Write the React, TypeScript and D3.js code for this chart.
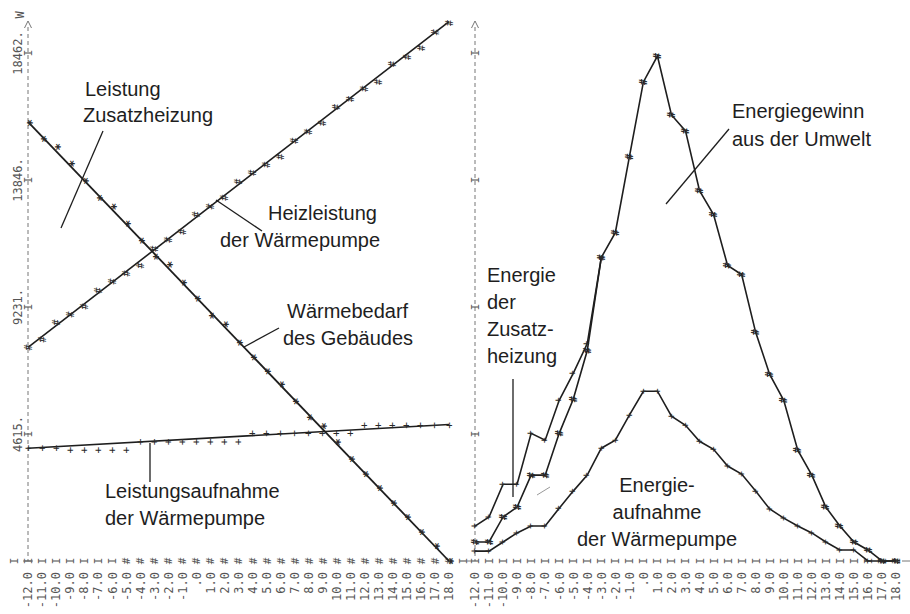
import * as d3 from 'd3';

const W = 910;
const H = 614;

// Außentemperatur (°C)
const temps = [-12, -11, -10, -9, -8, -7, -6, -5, -4, -3, -2, -1, 0, 1, 2, 3, 4, 5, 6, 7, 8, 9, 10, 11, 12, 13, 14, 15, 16, 17, 18];
const xLabels = ['-12.0', '-11.0', '-10.0', '-9.0', '-8.0', '-7.0', '-6.0', '-5.0', '-4.0', '-3.0', '-2.0', '-1.0', '.0', '1.0', '2.0', '3.0', '4.0', '5.0', '6.0', '7.0', '8.0', '9.0', '10.0', '11.0', '12.0', '13.0', '14.0', '15.0', '16.0', '17.0', '18.0'];

const yTicks = [4615, 9231, 13846, 18462];
const yTickLabels = ['4615.', '9231.', '13846.', '18462.'];

// linkes Diagramm: Leistung (W)
const heizleistung = [7760, 8050, 8670, 8960, 9250, 9830, 10160, 10450, 10740, 11350, 11680, 11970, 12590, 12880, 13200, 13780, 14110, 14400, 14690, 15270, 15600, 15920, 16500, 16790, 17160, 17410, 18060, 18320, 18640, 19220, 19550];
const waermebedarf = [15920, 15340, 15050, 14440, 13820, 13200, 12880, 12260, 11640, 11060, 10770, 10120, 9540, 8920, 8600, 7940, 7400, 6890, 6420, 5800, 5220, 4900, 4320, 3700, 3160, 2650, 2100, 1600, 1050, 540, 0];
const leistungsaufnahme = [4100, 4100, 4100, 4030, 4030, 4030, 4030, 4030, 4330, 4330, 4330, 4330, 4330, 4330, 4330, 4330, 4640, 4640, 4640, 4640, 4640, 4640, 4640, 4640, 4930, 4930, 4930, 4930, 4930, 4930, 4930];

// Ausgleichsgeraden (Werte bei -12 und 18)
const trendEnds = [-12, 18];
const trendHeiz = [7760, 19600];
const trendBedarf = [15960, 0];
const trendAufnahme = [4100, 4960];

// Nullzeile links
const bottomLeftMarks = ['I', 'I', 'I', 'I', 'I', 'I', 'I', '#', '#', '#', '#', '#', '#', '#', '#', '#', '#', '#', '#', '#', '#', '#', '#', '#', '#', '#', '#', '#', '#', '#', '#'];

// rechtes Diagramm: Energie
const umweltEnergie = [690, 690, 1600, 1960, 3120, 3120, 4640, 5880, 7650, 11030, 11930, 14690, 17410, 18350, 16210, 15630, 13460, 12590, 10740, 10410, 8310, 6780, 5840, 4030, 3120, 1960, 1270, 690, 400, 0, 0];
const zusatzTemps = [-12, -11, -10, -9, -8, -7, -6, -5, -4, -3];
const zusatzEnergie = [1270, 1600, 2790, 2790, 4640, 4390, 5840, 6820, 7900, 11030];
const aufnahmeEnergie = [360, 360, 690, 1020, 1270, 1270, 1920, 2540, 3120, 4100, 4390, 5300, 6170, 6170, 5260, 4930, 4350, 4060, 3450, 3160, 2540, 1890, 1560, 1270, 1020, 690, 400, 400, 0, 0, 0];

const MONO = 'DejaVu Sans Mono, monospace';
const SANS = 'Liberation Sans, Arial, Helvetica, sans-serif';

const Glyph = ({ x, y, ch, size = 11, dy = '0.36em', fill = '#333', bold = false }: any) => (
  <text transform={`translate(${x},${y}) rotate(-90)`} textAnchor="middle" dy={dy}
    fontFamily={MONO} fontSize={size} fill={fill} fontWeight={bold ? 'bold' : 'normal'}>{ch}</text>
);

export default function App() {
  const xL = d3.scaleLinear().domain([-12, 18]).range([28, 449]);
  const xR = d3.scaleLinear().domain([-12, 18]).range([475, 896]);
  const y = d3.scaleLinear().domain([0, 18462]).range([561, 53]);
  const y0 = y(0);

  const lineL = d3.line<number>().x((_, i) => xL(trendEnds[i])).y(d => y(d));
  const poly = (xs: number[], vs: number[]) =>
    d3.line<number>().x((_, i) => xR(xs[i])).y(d => y(d))(vs) || '';

  const lbl = (x: number, yy: number, s: string, anchor = 'start') => (
    <text x={x} y={yy} fontFamily={SANS} fontSize={20} fill="#1e1e1e" textAnchor={anchor}>{s}</text>
  );

  const axis = (x0: number, labels: boolean) => (
    <g>
      <line x1={x0} x2={x0} y1={27} y2={y0} stroke="#666" strokeWidth={0.9} strokeDasharray="4 3" />
      <path d={`M${x0 - 3.5},28 L${x0},21 L${x0 + 3.5},28`} fill="none" stroke="#666" strokeWidth={0.9} />
      {yTicks.map((t, i) => (
        <g key={t}>
          <Glyph x={x0} y={y(t)} ch="I" size={11} fill="#555" />
          {labels && (
            <text transform={`translate(18,${y(t)}) rotate(-90)`} textAnchor="middle" dy="0.36em"
              fontFamily={MONO} fontSize={12} fill="#555">{yTickLabels[i]}</text>
          )}
        </g>
      ))}
    </g>
  );

  const xAxisLabels = (sx: d3.ScaleLinear<number, number>) =>
    temps.map((t, i) => (
      <text key={t} transform={`translate(${sx(t)},572) rotate(-90)`} textAnchor="end" dy="0.36em"
        fontFamily={MONO} fontSize={12} fill="#555">{xLabels[i]}</text>
    ));

  return (
    <svg width={W} height={H} style={{ position: 'absolute', left: 0, top: 0, background: '#fff' }}>
      <rect width={W} height={H} fill="#fff" />

      {/* linkes Diagramm */}
      {axis(xL(-12), true)}
      <text transform={`translate(20,15) rotate(-90)`} textAnchor="middle" dy="0.36em"
        fontFamily={MONO} fontSize={12} fill="#555">W</text>
      {bottomLeftMarks.map((m, i) => (
        <Glyph key={i} x={xL(temps[i])} y={y0} ch={m} size={11} fill="#555" />
      ))}
      <Glyph x={xL(-13)} y={y0} ch="I" fill="#555" />
      <Glyph x={xL(19)} y={y0} ch="I" fill="#555" />
      <line x1={xL(-12) - 5} x2={xL(-12) + 5} y1={y0} y2={y0} stroke="#666" strokeWidth={0.9} />
      {xAxisLabels(xL)}

      <path d={lineL(trendHeiz) || ''} fill="none" stroke="#1e1e1e" strokeWidth={1.6} />
      <path d={lineL(trendBedarf) || ''} fill="none" stroke="#1e1e1e" strokeWidth={1.8} />
      <path d={lineL(trendAufnahme) || ''} fill="none" stroke="#1e1e1e" strokeWidth={1.6} />

      {heizleistung.map((v, i) => <Glyph key={'h' + i} x={xL(temps[i])} y={y(v)} ch="#" size={10} fill="#2a2a2a" />)}
      {waermebedarf.map((v, i) => <Glyph key={'w' + i} x={xL(temps[i])} y={y(v)} ch="*" size={13} dy="0.58em" fill="#2a2a2a" bold />)}
      {leistungsaufnahme.map((v, i) => <Glyph key={'l' + i} x={xL(temps[i])} y={y(v)} ch="+" size={11} dy="0.32em" fill="#2a2a2a" />)}

      {lbl(85, 96, 'Leistung')}
      {lbl(83, 122, 'Zusatzheizung')}
      <line x1={103} y1={131} x2={61} y2={228} stroke="#1e1e1e" strokeWidth={1.3} />

      {lbl(268, 220, 'Heizleistung')}
      {lbl(220, 247, 'der Wärmepumpe')}
      <line x1={216} y1={200} x2={262} y2={231} stroke="#1e1e1e" strokeWidth={1.3} />

      {lbl(287, 318, 'Wärmebedarf')}
      {lbl(283, 345, 'des Gebäudes')}
      <line x1={244} y1={347} x2={279} y2={328} stroke="#1e1e1e" strokeWidth={1.3} />

      {lbl(105, 498, 'Leistungsaufnahme')}
      {lbl(105, 525, 'der Wärmepumpe')}
      <line x1={150} y1={443} x2={150} y2={482} stroke="#1e1e1e" strokeWidth={1.3} />

      {/* rechtes Diagramm */}
      {axis(xR(-12), false)}
      {temps.map(t => <Glyph key={'r' + t} x={xR(t)} y={y0} ch="I" fill="#555" />)}
      <line x1={xL(19) + 4} x2={xR(-12) - 3} y1={y0} y2={y0} stroke="#666" strokeWidth={0.9} />
      <line x1={xR(18) + 6} x2={xR(18) + 14} y1={y0} y2={y0} stroke="#666" strokeWidth={0.9} />
      {xAxisLabels(xR)}

      <path d={poly(temps, umweltEnergie)} fill="none" stroke="#1e1e1e" strokeWidth={1.6} />
      <path d={poly(zusatzTemps, zusatzEnergie)} fill="none" stroke="#1e1e1e" strokeWidth={1.6} />
      <path d={poly(temps, aufnahmeEnergie)} fill="none" stroke="#1e1e1e" strokeWidth={1.6} />
      {umweltEnergie.map((v, i) => <Glyph key={'u' + i} x={xR(temps[i])} y={y(v)} ch="#" size={10} fill="#2a2a2a" bold />)}
      {zusatzEnergie.map((v, i) => <Glyph key={'z' + i} x={xR(zusatzTemps[i])} y={y(v)} ch="+" size={10} dy="0.32em" fill="#2a2a2a" />)}
      {aufnahmeEnergie.map((v, i) => <Glyph key={'a' + i} x={xR(temps[i])} y={y(v)} ch="+" size={10} dy="0.32em" fill="#2a2a2a" />)}

      {lbl(732, 118, 'Energiegewinn')}
      {lbl(732, 146, 'aus der Umwelt')}
      <line x1={729} y1={129} x2={666} y2={204} stroke="#1e1e1e" strokeWidth={1.3} />

      {lbl(487, 282, 'Energie')}
      {lbl(487, 309, 'der')}
      {lbl(487, 336, 'Zusatz-')}
      {lbl(487, 363, 'heizung')}
      <line x1={513} y1={379} x2={513} y2={497} stroke="#1e1e1e" strokeWidth={1.3} />
      <line x1={537} y1={495} x2={550} y2={487} stroke="#999" strokeWidth={1} />

      {lbl(657, 492, 'Energie-', 'middle')}
      {lbl(657, 519, 'aufnahme', 'middle')}
      {lbl(657, 546, 'der Wärmepumpe', 'middle')}
    </svg>
  );
}
